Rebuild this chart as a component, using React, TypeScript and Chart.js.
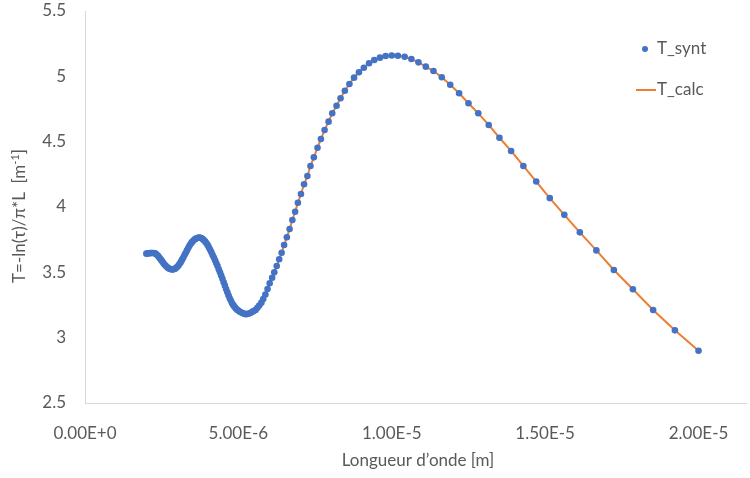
import { useEffect, useRef } from "react";
import { Chart, registerables } from "chart.js";

Chart.register(...registerables);

const FONT = 'Lato, "Open Sans", sans-serif';

// Wavelength [m]
const wavelengths = [
  2.0e-6, 2.04e-6, 2.08e-6, 2.12e-6, 2.16e-6, 2.2e-6, 2.24e-6, 2.28e-6, 2.32e-6, 2.36e-6,
  2.4e-6, 2.44e-6, 2.48e-6, 2.52e-6, 2.56e-6, 2.6e-6, 2.64e-6, 2.68e-6, 2.72e-6, 2.76e-6,
  2.8e-6, 2.84e-6, 2.88e-6, 2.92e-6, 2.96e-6, 3.0e-6, 3.04e-6, 3.08e-6, 3.12e-6, 3.16e-6,
  3.2e-6, 3.24e-6, 3.28e-6, 3.32e-6, 3.36e-6, 3.4e-6, 3.44e-6, 3.48e-6, 3.52e-6, 3.56e-6,
  3.6e-6, 3.64e-6, 3.68e-6, 3.72e-6, 3.76e-6, 3.8e-6, 3.84e-6, 3.88e-6, 3.92e-6, 3.96e-6,
  4.0e-6, 4.04e-6, 4.08e-6, 4.12e-6, 4.16e-6, 4.2e-6, 4.24e-6, 4.28e-6, 4.32e-6, 4.36e-6,
  4.4e-6, 4.44e-6, 4.48e-6, 4.52e-6, 4.56e-6, 4.6e-6, 4.64e-6, 4.68e-6, 4.72e-6, 4.76e-6,
  4.8e-6, 4.84e-6, 4.88e-6, 4.92e-6, 4.96e-6,
  5.0e-6, 5.05e-6, 5.1e-6, 5.15e-6, 5.21e-6, 5.26e-6, 5.32e-6, 5.38e-6, 5.43e-6, 5.49e-6,
  5.56e-6, 5.62e-6, 5.68e-6, 5.75e-6, 5.81e-6, 5.88e-6, 5.95e-6, 6.02e-6, 6.1e-6, 6.17e-6,
  6.25e-6, 6.33e-6, 6.41e-6, 6.49e-6, 6.58e-6, 6.67e-6, 6.76e-6, 6.85e-6, 6.94e-6, 7.04e-6,
  7.14e-6, 7.25e-6, 7.35e-6, 7.46e-6, 7.58e-6, 7.69e-6, 7.81e-6, 7.94e-6, 8.06e-6, 8.2e-6,
  8.33e-6, 8.47e-6, 8.62e-6, 8.77e-6, 8.93e-6, 9.09e-6, 9.26e-6, 9.43e-6, 9.615e-6, 9.8e-6,
  1.0e-5, 1.02e-5, 1.042e-5, 1.064e-5, 1.087e-5, 1.111e-5, 1.136e-5, 1.163e-5, 1.1905e-5, 1.2195e-5,
  1.25e-5, 1.282e-5, 1.316e-5, 1.351e-5, 1.389e-5, 1.429e-5, 1.471e-5, 1.515e-5, 1.5625e-5, 1.613e-5,
  1.667e-5, 1.724e-5, 1.786e-5, 1.852e-5, 1.923e-5, 2.0e-5,
];

// T_synt values [m^-1]
const tSynt = [
  3.643, 3.645, 3.646, 3.647, 3.648, 3.648, 3.648, 3.645, 3.64, 3.631,
  3.62, 3.608, 3.595, 3.582, 3.57, 3.558, 3.548, 3.539, 3.532, 3.527,
  3.524, 3.522, 3.523, 3.526, 3.532, 3.54, 3.55, 3.563, 3.578, 3.595,
  3.612, 3.63, 3.648, 3.666, 3.684, 3.701, 3.716, 3.729, 3.74, 3.749,
  3.756, 3.761, 3.765, 3.766, 3.764, 3.76, 3.754, 3.746, 3.735, 3.722,
  3.708, 3.691, 3.672, 3.653, 3.633, 3.613, 3.592, 3.57, 3.548, 3.524,
  3.5, 3.475, 3.45, 3.424, 3.398, 3.372, 3.347, 3.323, 3.3, 3.28,
  3.262, 3.247, 3.234, 3.223, 3.214,
  3.207, 3.198, 3.192, 3.186, 3.182, 3.18, 3.183, 3.188, 3.195, 3.203,
  3.212, 3.228, 3.246, 3.268, 3.295, 3.33, 3.373, 3.416, 3.459, 3.5,
  3.549, 3.6, 3.65, 3.709, 3.768, 3.832, 3.901, 3.964, 4.033, 4.1,
  4.174, 4.237, 4.314, 4.38, 4.454, 4.52, 4.589, 4.653, 4.717, 4.775,
  4.832, 4.89, 4.941, 4.99, 5.031, 5.066, 5.1, 5.125, 5.143, 5.156,
  5.16, 5.158, 5.15, 5.133, 5.107, 5.074, 5.041, 4.993, 4.936, 4.87,
  4.794, 4.717, 4.628, 4.53, 4.429, 4.314, 4.195, 4.068, 3.94, 3.806,
  3.668, 3.518, 3.37, 3.212, 3.056, 2.9,
];

// T_calc values (fit, coincides with the synthetic points)
const tCalc = tSynt;

const xTickValues = [0, 5e-6, 1e-5, 1.5e-5, 2e-5];
const xTickLabels = ["0.00E+0", "5.00E-6", "1.00E-5", "1.50E-5", "2.00E-5"];
const yTickValues = [2.5, 3, 3.5, 4, 4.5, 5, 5.5];
const yTickLabels = ["2.5", "3", "3.5", "4", "4.5", "5", "5.5"];

const seriesNames = ["T_synt", "T_calc"];
const xTitle = "Longueur d\u2019onde [m]";
const yTitleMain = "T=-ln(\u03C4)/\u03C0*L  [m";
const yTitleSup = "-1";
const yTitleEnd = "]";

const overlayPlugin = {
  id: "overlay",
  afterDraw(chart: any) {
    const ctx = chart.ctx as CanvasRenderingContext2D;
    ctx.save();
    ctx.fillStyle = "#595959";
    ctx.font = `17px ${FONT}`;
    ctx.textAlign = "center";
    ctx.textBaseline = "middle";
    ctx.fillText(xTitle, 418, 461);

    // y title
    ctx.save();
    ctx.translate(20, 216);
    ctx.rotate(-Math.PI / 2);
    ctx.textAlign = "left";
    ctx.textBaseline = "middle";
    ctx.font = `17px ${FONT}`;
    const w1 = ctx.measureText(yTitleMain).width;
    const w3 = ctx.measureText(yTitleEnd).width;
    ctx.font = `11px ${FONT}`;
    const w2 = ctx.measureText(yTitleSup).width;
    const total = w1 + w2 + w3;
    let x = -total / 2;
    ctx.font = `17px ${FONT}`;
    ctx.fillText(yTitleMain, x, 0);
    x += w1;
    ctx.font = `11px ${FONT}`;
    ctx.fillText(yTitleSup, x, -5);
    x += w2;
    ctx.font = `17px ${FONT}`;
    ctx.fillText(yTitleEnd, x, 0);
    ctx.restore();

    // legend
    ctx.textAlign = "left";
    ctx.textBaseline = "middle";
    ctx.font = `17px ${FONT}`;
    ctx.fillStyle = "#4472C4";
    ctx.beginPath();
    ctx.arc(645, 49, 3, 0, Math.PI * 2);
    ctx.fill();
    ctx.strokeStyle = "#ED7D31";
    ctx.lineWidth = 2;
    ctx.beginPath();
    ctx.moveTo(636, 90);
    ctx.lineTo(656, 90);
    ctx.stroke();
    ctx.fillStyle = "#595959";
    ctx.fillText(seriesNames[0], 657, 49);
    ctx.fillText(seriesNames[1], 657, 90);
    ctx.restore();
  },
};

export default function App() {
  const ref = useRef<HTMLCanvasElement | null>(null);

  useEffect(() => {
    if (!ref.current) return;
    const synt = wavelengths.map((x, i) => ({ x, y: tSynt[i] }));
    const calc = wavelengths.map((x, i) => ({ x, y: tCalc[i] }));
    const chart = new Chart(ref.current, {
      type: "scatter",
      data: {
        datasets: [
          {
            label: seriesNames[0],
            data: synt,
            showLine: false,
            pointRadius: 3.3,
            pointHoverRadius: 3.3,
            pointBorderWidth: 0,
            backgroundColor: "#4472C4",
            borderColor: "#4472C4",
          },
          {
            label: seriesNames[1],
            data: calc,
            showLine: true,
            pointRadius: 0,
            borderWidth: 2,
            borderColor: "#ED7D31",
            backgroundColor: "#ED7D31",
            tension: 0,
          },
        ],
      },
      options: {
        animation: false,
        responsive: false,
        devicePixelRatio: 1,
        layout: { padding: { top: 11, right: 0, left: 0, bottom: 0 } },
        plugins: {
          legend: { display: false },
          tooltip: { enabled: false },
        },
        scales: {
          x: {
            type: "linear",
            min: 0,
            max: 2.157e-5,
            grid: { display: false, drawTicks: false },
            border: { display: true, color: "#d9d9d9", width: 1 },
            afterBuildTicks: (axis: any) => {
              axis.ticks = xTickValues.map((v) => ({ value: v }));
            },
            afterFit: (axis: any) => {
              axis.height = 75;
              axis.paddingLeft = 0;
              axis.paddingRight = 0;
            },
            ticks: {
              padding: 20,
              color: "#595959",
              font: { family: FONT, size: 17 },
              maxRotation: 0,
              autoSkip: false,
              callback: (v: any) => {
                const i = xTickValues.findIndex((t) => Math.abs(t - v) < 1e-12);
                return i >= 0 ? xTickLabels[i] : "";
              },
            },
          },
          y: {
            type: "linear",
            min: 2.5,
            max: 5.5,
            grid: { display: false, drawTicks: false },
            border: { display: true, color: "#d9d9d9", width: 1 },
            afterBuildTicks: (axis: any) => {
              axis.ticks = yTickValues.map((v) => ({ value: v }));
            },
            afterFit: (axis: any) => {
              axis.width = 85;
              axis.paddingTop = 0;
              axis.paddingBottom = 0;
            },
            ticks: {
              padding: 19,
              color: "#595959",
              font: { family: FONT, size: 17 },
              autoSkip: false,
              callback: (v: any) => {
                const i = yTickValues.findIndex((t) => Math.abs(t - v) < 1e-9);
                return i >= 0 ? yTickLabels[i] : "";
              },
            },
          },
        },
      },
      plugins: [overlayPlugin],
    } as any);
    return () => chart.destroy();
  }, []);

  return (
    <div style={{ position: "fixed", left: 0, top: 0, width: 750, height: 478, background: "#fff" }}>
      <canvas ref={ref} width={750} height={478} style={{ width: 750, height: 478, display: "block" }} />
    </div>
  );
}
